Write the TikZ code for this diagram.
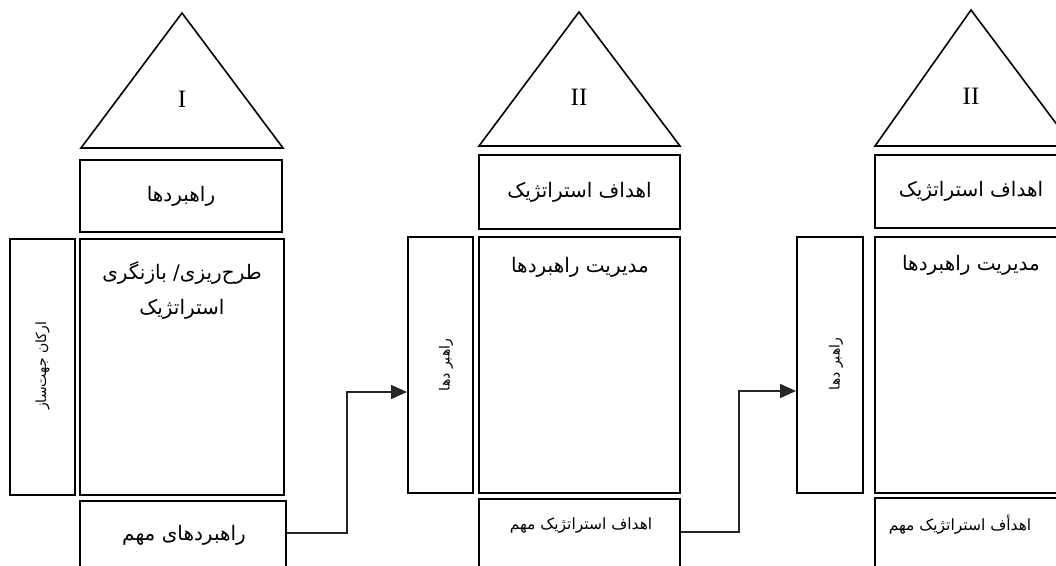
\documentclass[tikz,border=0pt]{standalone}
\usepackage{fontspec}
\setmainfont{Liberation Serif}
\newfontfamily\fa[Script=Arabic]{DejaVu Sans}
\TeXXeTstate=1
\usetikzlibrary{arrows.meta}
\tikzset{
  box/.style={draw=black, line width=2pt, rectangle, inner sep=0pt},
  tri/.style={draw=black, line width=1.6pt, line join=miter},
  conn/.style={draw=black!85, line width=1.6pt, -{Triangle[length=16pt,width=14pt]}},
  big/.style={font=\fa\fontsize{20}{35}\selectfont, inner sep=0pt, align=center},
  small/.style={font=\fa\fontsize{15.5}{18}\selectfont, inner sep=0pt},
  side/.style={font=\fa\fontsize{14}{16}\selectfont, inner sep=0pt, rotate=90},
  roman/.style={font=\fontsize{25}{30}\selectfont, inner sep=0pt}
}
\begin{document}
\begin{tikzpicture}[x=1pt,y=-1pt]
\useasboundingbox (0,0) rectangle (1056,565);
\clip (0,0) rectangle (1056,565);
% ---------- column 1
\draw[tri] (182,13) -- (283,148) -- (81,148) -- cycle;
\node[roman] (r1) at (182,99) {I};
\node[box, big, minimum width=202pt, minimum height=72pt] (top1) at (181,196) {\beginR راهبردها\endR};
\node[box, minimum width=204pt, minimum height=256pt] (main1) at (182,367) {};
\node[big] (main1t) at (182,290) {\beginR طرح‌ریزی/ بازنگری\endR\\\beginR استراتژیک\endR};
\node[box, minimum width=65pt, minimum height=256pt] (side1) at (42.5,367) {};
\node[side] (side1t) at (42.5,366) {\beginR ارکان جهت‌ساز\endR};
\node[box, minimum width=206pt, minimum height=80pt] (bot1) at (183,541) {};
\node[big] (bot1t) at (184,535) {\beginR راهبردهای مهم\endR};
% ---------- column 2
\draw[tri] (579,12) -- (680,146) -- (479,146) -- cycle;
\node[roman] (r2) at (579,97) {II};
\node[box, big, minimum width=201pt, minimum height=74pt] (top2) at (579.5,192) {\beginR اهداف استراتژیک\endR};
\node[box, minimum width=201pt, minimum height=256pt] (main2) at (579.5,365) {};
\node[big] (main2t) at (580,267) {\beginR مدیریت راهبردها\endR};
\node[box, minimum width=65pt, minimum height=256pt] (side2) at (440.5,365) {};
\node[side] (side2t) at (446,365) {\beginR راهبر دها\endR};
\node[box, minimum width=201pt, minimum height=82pt] (bot2) at (579.5,540) {};
\node[small] (bot2t) at (581,525) {\beginR اهداف استراتژیک مهم\endR};
% ---------- column 3
\draw[tri] (971,10) -- (1073,146) -- (875,146) -- cycle;
\node[roman] (r3) at (971,96) {II};
\node[box, minimum width=201pt, minimum height=73pt] (top3) at (975.5,191.5) {};
\node[big] (top3t) at (971,191) {\beginR اهداف استراتژیک\endR};
\node[box, minimum width=201pt, minimum height=256pt] (main3) at (975.5,365) {};
\node[big] (main3t) at (971,265) {\beginR مدیریت راهبردها\endR};
\node[box, minimum width=66pt, minimum height=256pt] (side3) at (830,365) {};
\node[side] (side3t) at (836,364) {\beginR راهبر دها\endR};
\node[box, minimum width=201pt, minimum height=82pt] (bot3) at (975.5,539) {};
\node[small] (bot3t) at (960,525) {\beginR اهدأف استراتژیک مهم\endR};
% ---------- connectors
\draw[conn] (bot1.east |- 0,533) -| (347,392) -- (side2.west |- 0,392);
\draw[conn] (bot2.east |- 0,532) -| (739,391) -- (side3.west |- 0,391);
\end{tikzpicture}
\end{document}
